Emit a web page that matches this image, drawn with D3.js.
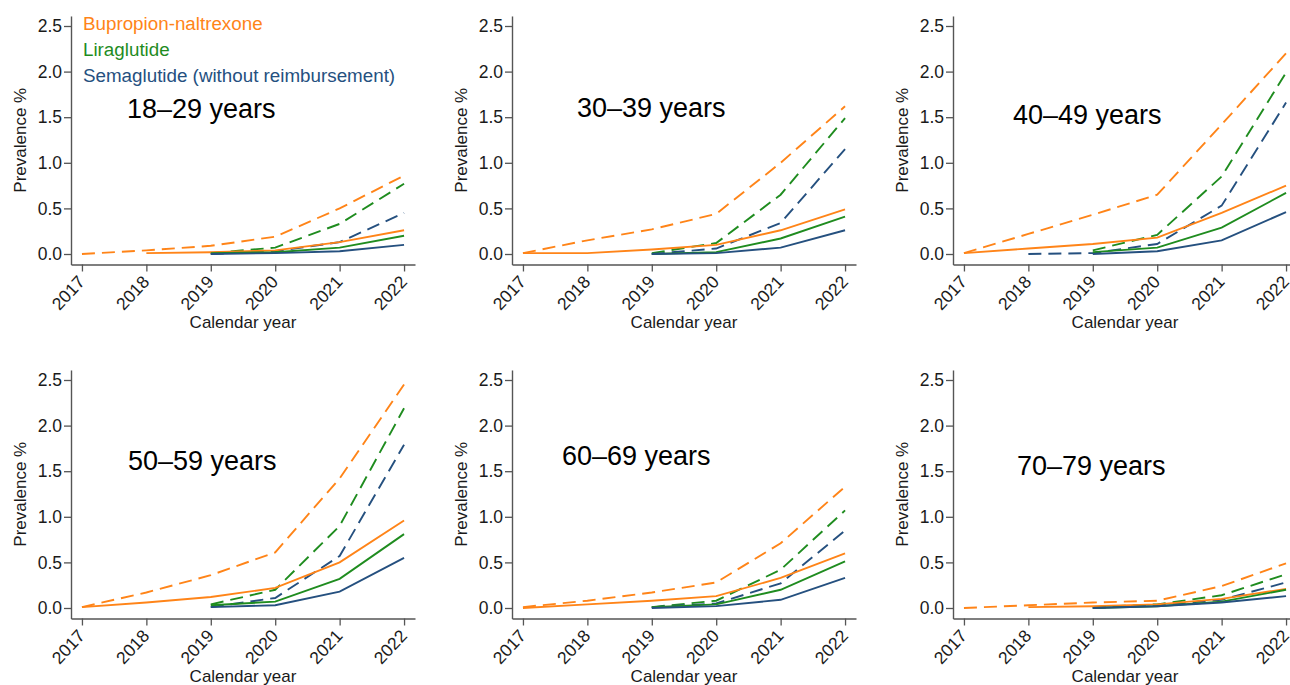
<!DOCTYPE html>
<html>
<head>
<meta charset="utf-8">
<script src="https://cdn.jsdelivr.net/npm/d3@7"></script>
<style>
  body { margin: 0; background: #fff; }
  svg { display: block; font-family: "Liberation Sans", Arial, sans-serif; }
</style>
</head>
<body>
<div id="container"></div>
<script>
/** DATA */
const years = [2017, 2018, 2019, 2020, 2021, 2022];
const ageGroups = ["18–29 years", "30–39 years", "40–49 years", "50–59 years", "60–69 years", "70–79 years"];
const yTicks = [0, 0.5, 1, 1.5, 2, 2.5];
const drugs = ["Bupropion-naltrexone", "Liraglutide", "Semaglutide (without reimbursement)"];

// one row per age group, one value per year (null = not on market)
const bupSolid = [
  [null, 0.01, 0.02, 0.04, 0.13, 0.26],
  [0.01, 0.01, 0.05, 0.10, 0.26, 0.49],
  [0.01, 0.06, 0.11, 0.18, 0.45, 0.75],
  [0.01, 0.06, 0.12, 0.22, 0.50, 0.96],
  [0.00, 0.04, 0.08, 0.13, 0.33, 0.60],
  [null, 0.01, 0.02, 0.04, 0.10, 0.21]
];
const bupDashed = [
  [0.00, 0.04, 0.09, 0.19, 0.50, 0.86],
  [0.01, 0.15, 0.27, 0.44, 1.00, 1.62],
  [0.01, 0.22, 0.43, 0.65, 1.42, 2.20],
  [0.01, 0.17, 0.36, 0.61, 1.42, 2.45],
  [0.01, 0.08, 0.17, 0.28, 0.71, 1.33],
  [0.00, 0.03, 0.06, 0.08, 0.24, 0.49]
];
const liraSolid = [
  [null, null, 0.01, 0.02, 0.07, 0.20],
  [null, null, 0.00, 0.02, 0.17, 0.41],
  [null, null, 0.02, 0.07, 0.29, 0.67],
  [null, null, 0.03, 0.07, 0.32, 0.81],
  [null, null, 0.01, 0.04, 0.20, 0.51],
  [null, null, 0.00, 0.02, 0.07, 0.20]
];
const liraDashed = [
  [null, null, 0.01, 0.07, 0.33, 0.77],
  [null, null, 0.01, 0.12, 0.65, 1.49],
  [null, null, 0.04, 0.21, 0.85, 1.99],
  [null, null, 0.04, 0.20, 0.90, 2.19],
  [null, null, 0.01, 0.08, 0.42, 1.07],
  [null, null, 0.01, 0.04, 0.14, 0.37]
];
const semaSolid = [
  [null, null, 0.00, 0.01, 0.03, 0.10],
  [null, null, 0.00, 0.01, 0.07, 0.26],
  [null, null, 0.00, 0.03, 0.15, 0.46],
  [null, null, 0.01, 0.03, 0.18, 0.55],
  [null, null, 0.00, 0.02, 0.09, 0.33],
  [null, null, 0.00, 0.02, 0.06, 0.13]
];
const semaDashed = [
  [null, null, 0.00, 0.03, 0.13, 0.45],
  [null, null, 0.00, 0.06, 0.34, 1.15],
  [null, 0.00, 0.01, 0.11, 0.53, 1.66],
  [null, null, 0.01, 0.11, 0.57, 1.79],
  [null, null, 0.01, 0.05, 0.27, 0.85],
  [null, null, 0.00, 0.03, 0.09, 0.28]
];

/** LAYOUT */
const width = 1290, height = 685;
const colors = ["#ff8418", "#1f8c1f", "#25507f"];
const colX = [71, 512, 953];       // y-axis position per column
const rowY0 = [254, 608];          // pixel of value 0 per row
const pxPerUnit = 91.2;
const titleOffset = [[56, 136], [65, 137], [60, 130], [57, 138], [50, 143], [64, 133]];

const series = [
  { values: bupDashed, color: colors[0], dash: "13,7" },
  { values: liraDashed, color: colors[1], dash: "13,7" },
  { values: semaDashed, color: colors[2], dash: "13,7" },
  { values: bupSolid, color: colors[0], dash: null },
  { values: liraSolid, color: colors[1], dash: null },
  { values: semaSolid, color: colors[2], dash: null }
];

const svg = d3.select("#container").append("svg")
  .attr("width", width)
  .attr("height", height);

ageGroups.forEach((group, i) => {
  const ox = colX[i % 3];
  const y0 = rowY0[Math.floor(i / 3)];

  const x = d3.scaleLinear()
    .domain([2016.83, 2022.17])
    .range([ox, ox + 344]);
  const y = d3.scaleLinear()
    .domain([-0.115, 2.61])
    .range([y0 + 0.115 * pxPerUnit, y0 - 2.61 * pxPerUnit]);

  const g = svg.append("g");

  // y axis
  const yAxis = g.append("g")
    .attr("transform", `translate(${ox},0)`)
    .call(d3.axisLeft(y).tickValues(yTicks).tickFormat(d3.format(".1f"))
      .tickSize(7).tickSizeOuter(0).tickPadding(2));

  // x axis
  const xAxis = g.append("g")
    .attr("transform", `translate(0,${y(-0.115)})`)
    .call(d3.axisBottom(x).tickValues(years).tickFormat(d3.format("d"))
      .tickSize(7).tickSizeOuter(0));

  xAxis.selectAll("text")
    .attr("y", 0)
    .attr("dy", "0.35em")
    .attr("text-anchor", "end")
    .attr("transform", "translate(-1,14) rotate(-47)");

  [yAxis, xAxis].forEach(a => {
    a.select(".domain").attr("stroke", "#555").attr("stroke-width", 1.4);
    a.selectAll(".tick line").attr("stroke", "#555").attr("stroke-width", 1.3);
    a.selectAll("text").attr("fill", "#1a1a1a").style("font-size", "17.5px");
  });

  // axis titles
  g.append("text")
    .attr("x", (x(2017) + x(2022)) / 2)
    .attr("y", y(-0.115) + 64)
    .attr("text-anchor", "middle")
    .attr("fill", "#1a1a1a")
    .style("font-size", "17px")
    .text("Calendar year");

  g.append("text")
    .attr("transform", `translate(${ox - 45},${(y(-0.115) + y(2.61)) / 2}) rotate(-90)`)
    .attr("text-anchor", "middle")
    .attr("fill", "#1a1a1a")
    .style("font-size", "17px")
    .text("Prevalence %");

  // lines
  const line = d3.line()
    .defined(d => d.v != null)
    .x(d => x(d.year))
    .y(d => y(d.v));

  series.forEach(s => {
    const pts = years.map((year, k) => ({ year, v: s.values[i][k] }));
    g.append("path")
      .datum(pts)
      .attr("d", line)
      .attr("fill", "none")
      .attr("stroke", s.color)
      .attr("stroke-width", 1.9)
      .attr("stroke-dasharray", s.dash);
  });

  // panel title
  g.append("text")
    .attr("x", ox + titleOffset[i][0])
    .attr("y", y0 - titleOffset[i][1])
    .attr("fill", "#000")
    .style("font-size", "27px")
    .text(group);
});

// legend (first panel only)
svg.append("g")
  .selectAll("text")
  .data(drugs)
  .join("text")
  .attr("x", 83)
  .attr("y", (d, k) => 30 + k * 26)
  .attr("fill", (d, k) => colors[k])
  .style("font-size", "18.8px")
  .text(d => d);
</script>
</body>
</html>
